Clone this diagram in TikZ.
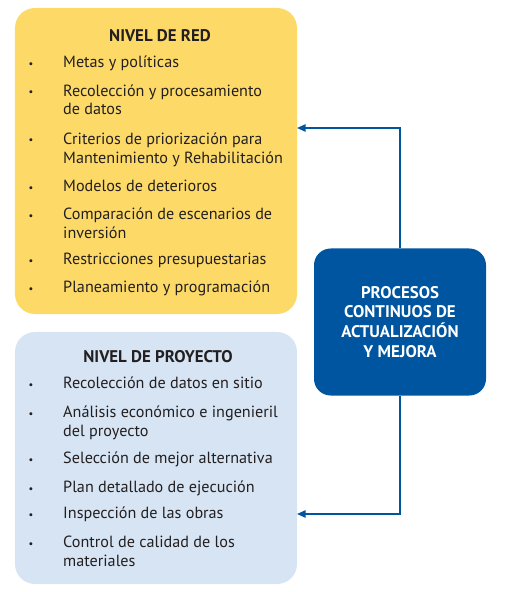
\documentclass[tikz,border=0pt]{standalone}
\usepackage{fontspec}
\setmainfont{PT Sans}
\usetikzlibrary{arrows.meta}

\definecolor{redyellow}{RGB}{253,218,104}
\definecolor{projblue}{RGB}{214,228,243}
\definecolor{procblue}{RGB}{0,85,160}
\definecolor{textgray}{RGB}{35,31,32}
\newcommand{\bodysize}{\fontsize{13.8}{16.2}\selectfont}
\newcommand{\headsize}{\fontsize{14.4}{17}\selectfont}

\begin{document}
\begin{tikzpicture}[x=0.03cm, y=-0.03cm, font=\bodysize,
		level/.style={rounded corners=0.6cm, minimum width=8.46cm, inner sep=0pt},
		head/.style={font=\headsize\bfseries, text=textgray, anchor=base, inner sep=0pt},
		item/.style={align=left, anchor=base west, text=textgray, inner sep=0pt},
		dot/.style={font=\fontsize{9}{9}\selectfont, text=textgray, anchor=base, inner sep=0pt},
		proc/.style={fill=procblue, rounded corners=0.5cm, minimum width=5.16cm, minimum height=4.41cm,
			align=center, text=white, font=\headsize\bfseries},
		flow/.style={draw=procblue, line width=1.4pt, -{Triangle[length=0.26cm, width=0.22cm]}}]
		\useasboundingbox (0,0) rectangle (507,592);
		
		% Level boxes
		\node[level, fill=redyellow, minimum height=9.18cm] (red) at (156,161) {};
		\node[level, fill=projblue, minimum height=7.56cm] (proj) at (156,458) {};
		
		% Network level (first line / last line baselines)
		\node[head] (redhead) at (160,42) {NIVEL DE RED};
		\foreach \n/\y/\b/\txt in {1/68/68/{Metas y políticas}, 2/96/115/{Recolección y procesamiento\\de datos},
			3/144/163/{Criterios de priorización para\\Mantenimiento y Rehabilitación}, 4/191/191/{Modelos de deterioros},
			5/219/238/{Comparación de escenarios de\\inversión}, 6/264/264/{Restricciones presupuestarias},
			7/292/292/{Planeamiento y programación}}
		{
			\node[item] (red\n) at (63,\b) {\txt};
			\node[dot] (reddot\n) at (31,\y) {•};
		}
		
		% Project level
		\node[head] (projhead) at (158,362) {NIVEL DE PROYECTO};
		\foreach \n/\y/\b/\txt in {1/388/388/{Recolección de datos en sitio}, 2/417/436/{Análisis económico e ingenieril\\del proyecto},
			3/463/463/{Selección de mejor alternativa}, 4/492/492/{Plan detallado de ejecución},
			5/518/518/{Inspección de las obras}, 6/547/566/{Control de calidad de los\\materiales}}
		{
			\node[item] (proj\n) at (63,\b) {\txt};
			\node[dot] (projdot\n) at (31,\y) {•};
		}
		
		% Continuous processes
		\node[proc] (proc) at (400,322) {PROCESOS\\CONTINUOS DE\\ACTUALIZACIÓN\\Y MEJORA};
		
		% Feedback arrows
		\coordinate (redin) at (297,128);
		\coordinate (projin) at (297,514);
		\draw[flow] (proc.north) |- (redin);
		\draw[flow] (proc.south) |- (projin);
		
	\end{tikzpicture}
\end{document}
